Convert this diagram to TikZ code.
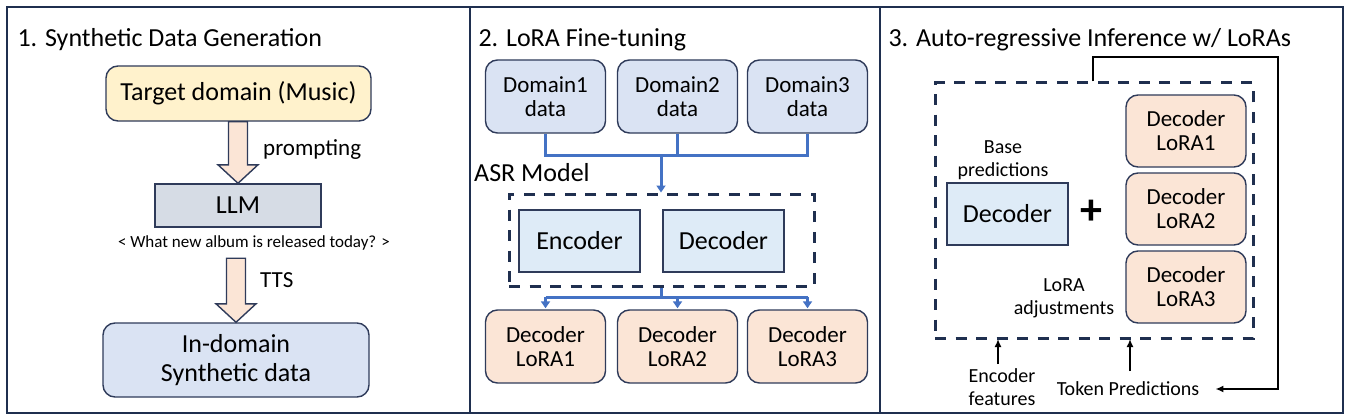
\documentclass[tikz,border=0pt]{standalone}
\usepackage{fontspec}
\setmainfont{Carlito}
\usetikzlibrary{arrows.meta,calc}

\definecolor{navy}{HTML}{1F2F4F}
\definecolor{boxline}{HTML}{2F3B5A}
\definecolor{targetfill}{HTML}{FFF2CC}
\definecolor{datafill}{HTML}{DAE3F3}
\definecolor{llmfill}{HTML}{D6DCE5}
\definecolor{modfill}{HTML}{DEEBF7}
\definecolor{lorafill}{HTML}{FBE5D6}
\definecolor{wireblue}{HTML}{4472C4}

\newcommand{\fs}[1]{\fontsize{#1}{#1}\selectfont}

% block arrow from one node down to the next
\newcommand{\blockarrow}[2]{%
  \draw[blockarr] ($(#1.south -| #2.north)+(-9.5,0)$) -- ($(#1.south -| #2.north)+(9.5,0)$)
    -- ($(#2.north)+(9.5,-18.5)$) -- ($(#2.north)+(20,-18.5)$) -- (#2.north)
    -- ($(#2.north)+(-20,-18.5)$) -- ($(#2.north)+(-9.5,-18.5)$) -- cycle;}

\begin{document}
\begin{tikzpicture}[x=1pt,y=-1pt,
    panel/.style={draw=navy,line width=2.6pt},
    title/.style={anchor=west,font=\fs{26}},
    rbox/.style={draw=boxline,line width=1.4pt,rounded corners=12pt,align=center,inner sep=0pt},
    sbox/.style={draw=boxline,line width=1.4pt,align=center,inner sep=0pt},
    databox/.style={rbox,fill=datafill,minimum width=120,minimum height=73,font=\fs{23},text depth=0pt},
    lorabox/.style={rbox,fill=lorafill,minimum width=120,minimum height=73,font=\fs{23}},
    modbox/.style={sbox,fill=modfill,minimum width=121,minimum height=62,font=\fs{26}},
    dashbox/.style={draw=navy,line width=3pt,dash pattern=on 11pt off 9.5pt,inner sep=0pt},
    blockarr/.style={draw=boxline,line width=1.4pt,fill=lorafill},
    wire/.style={draw=wireblue,line width=3pt},
    fb/.style={draw=black,line width=2pt},
    note/.style={align=center,font=\fs{20},inner sep=0pt}]

  \useasboundingbox (0,0) rectangle (1350,420);
  \fill[white] (0,0) rectangle (1350,420);

  % panels
  \draw[panel] (7,7) rectangle (470,413);
  \draw[panel] (470,7) rectangle (880,413);
  \draw[panel] (880,7) rectangle (1343,413);

  % 1. synthetic data generation
  \node[title] (title1) at (14,40) {1. Synthetic Data Generation};
  \node[rbox,fill=targetfill,minimum width=265,minimum height=55,font=\fs{26}]
    (target) at (238.5,93.5) {Target domain (Music)};
  \node[sbox,fill=llmfill,minimum width=166,minimum height=43,font=\fs{26}]
    (llm) at (238,205.5) {LLM};
  \node[font=\fs{17},inner sep=0pt,minimum height=30] (query) at (254,243)
    {< What new album is released today? >};
  \node[rbox,fill=datafill,minimum width=266,minimum height=74,font=\fs{26}]
    (synth) at (236,360) {In-domain\\[3pt]Synthetic data};
  \blockarrow{target}{llm}
  \blockarrow{query}{synth}
  \node[anchor=west,font=\fs{23},inner sep=0pt] (prompting) at (263,150) {prompting};
  \node[anchor=west,font=\fs{23},inner sep=0pt] (tts) at (260,280) {TTS};

  % 2. lora fine-tuning
  \node[title] (title2) at (475,40) {2. LoRA Fine-tuning};
  \foreach \i/\x in {1/545.5, 2/677.5, 3/807.5} {
    \node[databox] (dom\i) at (\x,96.5) {Domain\i\\[1pt]data};
    \node[lorabox] (lora\i) at (\x,346.5) {Decoder\\[1pt]LoRA\i};
  }
  \node[anchor=west,font=\fs{26},inner sep=0pt] (asrlabel) at (474,173) {ASR Model};
  \node[dashbox,minimum width=305,minimum height=92] (asr) at (661.5,240) {};
  \node[modbox] (enc) at (579.5,241) {Encoder};
  \node[modbox] (dec) at (723.5,241) {Decoder};

  \coordinate (join) at (661,155);
  \coordinate (split) at (661,297);
  \draw[wire] (dom1.south) |- (join) -| (dom3.south);
  \draw[wire] (dom2.south) -- (dom2.south |- join);
  \draw[wire,-{Triangle[width=9pt,length=7pt]}] (join) -- (join |- asr.north);
  \draw[wire] (join |- asr.south) -- (split);
  \draw[wire] (lora1.north |- split) -- (lora3.north |- split);
  \foreach \i in {1,2,3}
    \draw[wire,-{Triangle[width=9pt,length=7pt]}] (lora\i.north |- split) -- ($(lora\i.north)+(0,-1)$);

  % 3. auto-regressive inference
  \node[title] (title3) at (885,40) {3. Auto-regressive Inference w/ LoRAs};
  \node[dashbox,minimum width=318,minimum height=255] (loop) at (1094,210.5) {};
  \foreach \i/\y in {1/131, 2/209, 3/287}
    \node[lorabox,minimum height=72] (adapt\i) at (1186,\y) {Decoder\\[1pt]LoRA\i};
  \node[modbox] (base) at (1007.5,214) {Decoder};
  \node[font=\fs{44}\bfseries,inner sep=0pt] (plus) at (1091,212) {+};
  \node[note] (basenote) at (1003,160) {Base\\[3pt]predictions};
  \node[note] (loranote) at (1064,298) {LoRA\\[3pt]adjustments};
  \node[note] (encfeat) at (1002,387) {Encoder\\[3pt]features};
  \node[note] (token) at (1128,389) {Token Predictions};

  \coordinate (fbtop) at (1093,57);
  \coordinate (fbcorner) at (1278,389);
  \draw[fb,-{Latex[width=7pt,length=8pt]}] (loop.north -| fbtop) -- (fbtop) -| (fbcorner)
    -- ($(token.east)+(16,0)$);
  \draw[fb,-{Latex[width=7pt,length=8pt]}] (998,364) -- (998,339);
  \draw[fb,-{Latex[width=7pt,length=8pt]}] (1130,371) -- (1130,339);
\end{tikzpicture}
\end{document}
